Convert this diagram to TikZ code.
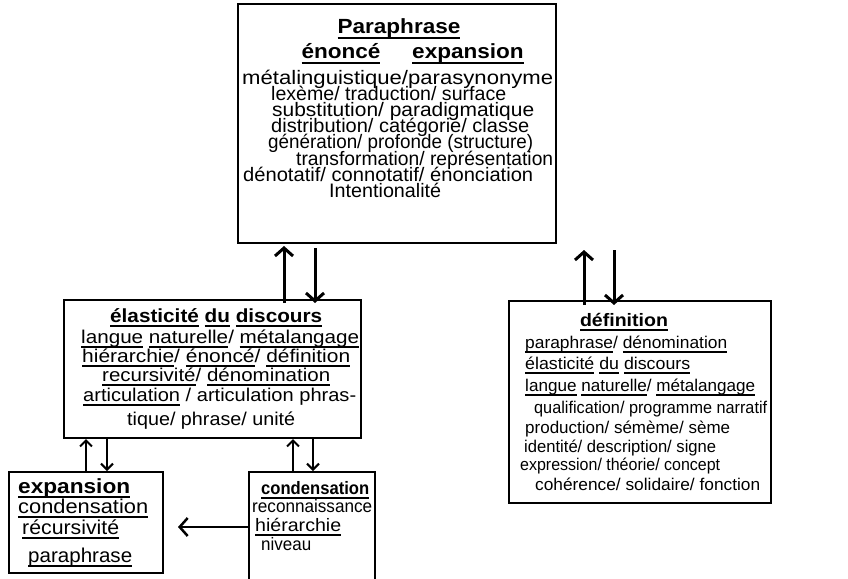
\documentclass[tikz,border=0pt]{standalone}
\usepackage{fontspec}
\usepackage{graphicx}
\setmainfont{Liberation Sans}[FakeStretch=1.1]
\usetikzlibrary{arrows.meta}
\newsavebox\ulbox
\newcommand\ulw[1]{\sbox\ulbox{#1}\rlap{\rule[-5pt]{\wd\ulbox}{1.7pt}}\usebox\ulbox}
\newcommand\fw[2]{\resizebox{#1pt}{\height}{#2}}
\begin{document}
\begin{tikzpicture}[x=1pt,y=-1pt,
  box/.style={draw, line width=2pt, inner sep=0pt, anchor=north west},
  t/.style={anchor=base west, inner sep=0pt},
  tc/.style={anchor=base, inner sep=0pt},
  big/.style={line width=3pt, -{Straight Barb[length=8pt,width=18pt]}},
  small/.style={line width=2pt, -{Straight Barb[length=6pt,width=12pt]}},
  fa/.style={font=\fontsize{19.5}{19.5}\selectfont},
  fab/.style={font=\fontsize{20.5}{20.5}\selectfont\bfseries},
  fe/.style={font=\fontsize{18.5}{18.5}\selectfont},
  feb/.style={font=\fontsize{19}{19}\selectfont\bfseries},
  fd/.style={font=\fontsize{17}{17}\selectfont},
  fdb/.style={font=\fontsize{18}{18}\selectfont\bfseries},
  fx/.style={font=\fontsize{20}{20}\selectfont},
  fxb/.style={font=\fontsize{20.5}{20.5}\selectfont\bfseries},
  fc/.style={font=\fontsize{18}{18}\selectfont},
  fcb/.style={font=\fontsize{18}{18}\selectfont\bfseries}]
\useasboundingbox[fill=white] (0,0) rectangle (848,578);

% boxes
\node[box, minimum width=318pt, minimum height=239pt] (para) at (237,3) {};
\node[box, minimum width=297pt, minimum height=138pt] (elas) at (63,299) {};
\node[box, minimum width=262pt, minimum height=202pt] (defi) at (508,300) {};
\node[box, minimum width=154pt, minimum height=101pt] (expa) at (8,471) {};
\node[box, minimum width=126pt, minimum height=115pt] (cond) at (248,471) {};

% Paraphrase box
\node[tc,fab] (ptit) at (399,34) {\ulw{Paraphrase}};
\node[tc,fab] (pen) at (341,59) {\ulw{énoncé}};
\node[tc,fab] (pex) at (468,59) {\ulw{expansion}};
\node[t,fa] (p1) at (242,84) {\fw{311}{métalinguistique/parasynonyme}};
\node[t,fa] (p2) at (271,100) {\fw{235}{lexème/ traduction/ surface}};
\node[t,fa] (p3) at (272,116) {\fw{262}{substitution/ paradigmatique}};
\node[t,fa] (p4) at (271,132) {\fw{258}{distribution/ catégorie/ classe}};
\node[t,fa] (p5) at (268,148) {\fw{265}{génération/ profonde (structure)}};
\node[t,fa] (p6) at (296,165) {\fw{257}{transformation/ représentation}};
\node[t,fa] (p7) at (243,181) {\fw{290}{dénotatif/ connotatif/ énonciation}};
\node[t,fa] (p8) at (329,197) {\fw{112}{Intentionalité}};

% élasticité box
\node[t,feb] (etit) at (110,322) {\fw{212}{\ulw{élasticité} \ulw{du} \ulw{discours}}};
\node[t,fe] (e1) at (81,343) {\fw{278}{\ulw{langue} \ulw{naturelle}/ \ulw{métalangage}}};
\node[t,fe] (e2) at (82,362) {\fw{268}{\ulw{hiérarchie}/ \ulw{énoncé}/ \ulw{définition}}};
\node[t,fe] (e3) at (102,381) {\fw{228}{\ulw{recursivité}/ \ulw{dénomination}}};
\node[t,fe] (e4) at (83,401) {\fw{273}{\ulw{articulation} / articulation phras-}};
\node[t,fe] (e5) at (127,425) {\fw{168}{tique/ phrase/ unité}};

% définition box
\node[tc,fdb] (dtit) at (624,326) {\fw{88}{\ulw{définition}}};
\node[t,fd] (d1) at (525,348) {\fw{202}{\ulw{paraphrase}/ \ulw{dénomination}}};
\node[t,fd] (d2) at (525,369) {\fw{165}{\ulw{élasticité} \ulw{du} \ulw{discours}}};
\node[t,fd] (d3) at (525,391) {\fw{230}{\ulw{langue} \ulw{naturelle}/ \ulw{métalangage}}};
\node[t,fd] (d4) at (534,413) {\fw{233}{qualification/ programme narratif}};
\node[t,fd] (d5) at (525,433) {\fw{205}{production/ sémème/ sème}};
\node[t,fd] (d6) at (524,452) {\fw{192}{identité/ description/ signe}};
\node[t,fd] (d7) at (520,470) {\fw{200}{expression/ théorie/ concept}};
\node[t,fd] (d8) at (535,490) {\fw{225}{cohérence/ solidaire/ fonction}};

% expansion box
\node[t,fxb] (xtit) at (18,493) {\fw{112}{\ulw{expansion}}};
\node[t,fx] (x1) at (18,513) {\fw{130}{\ulw{condensation}}};
\node[t,fx] (x2) at (22,534) {\fw{97}{\ulw{récursivité}}};
\node[t,fx] (x3) at (28,562) {\fw{104}{\ulw{paraphrase}}};

% condensation box
\node[t,fcb] (ctit) at (261,494) {\fw{108}{\ulw{condensation}}};
\node[t,fc] (c1) at (252,512) {\fw{120}{reconnaissance}};
\node[t,fc] (c2) at (255,531) {\fw{86}{\ulw{hiérarchie}}};
\node[t,fc] (c3) at (261,550) {\fw{50}{niveau}};

% arrow end points
\coordinate (a1b) at (284,303); \coordinate (a1t) at (284,246);
\coordinate (a2t) at (315,248); \coordinate (a2b) at (315,303);
\coordinate (a3b) at (584,305); \coordinate (a3t) at (584,250);
\coordinate (a4t) at (614,250); \coordinate (a4b) at (614,305);

\draw[big] (a1b) -- (a1t);
\draw[big] (a2t) -- (a2b);
\draw[big] (a3b) -- (a3t);
\draw[big] (a4t) -- (a4b);

\draw[small] (expa.north -| 86,0) -- (elas.south -| 86,0);
\draw[small] (elas.south -| 107,0) -- (expa.north -| 107,0);
\draw[small] (cond.north -| 293,0) -- (elas.south -| 293,0);
\draw[small] (elas.south -| 313,0) -- (cond.north -| 313,0);

\coordinate (harrow) at (178,527);
\draw[line width=2.5pt, -{Straight Barb[length=8pt,width=18pt]}] (cond.west |- harrow) -- (harrow);
\end{tikzpicture}
\end{document}
